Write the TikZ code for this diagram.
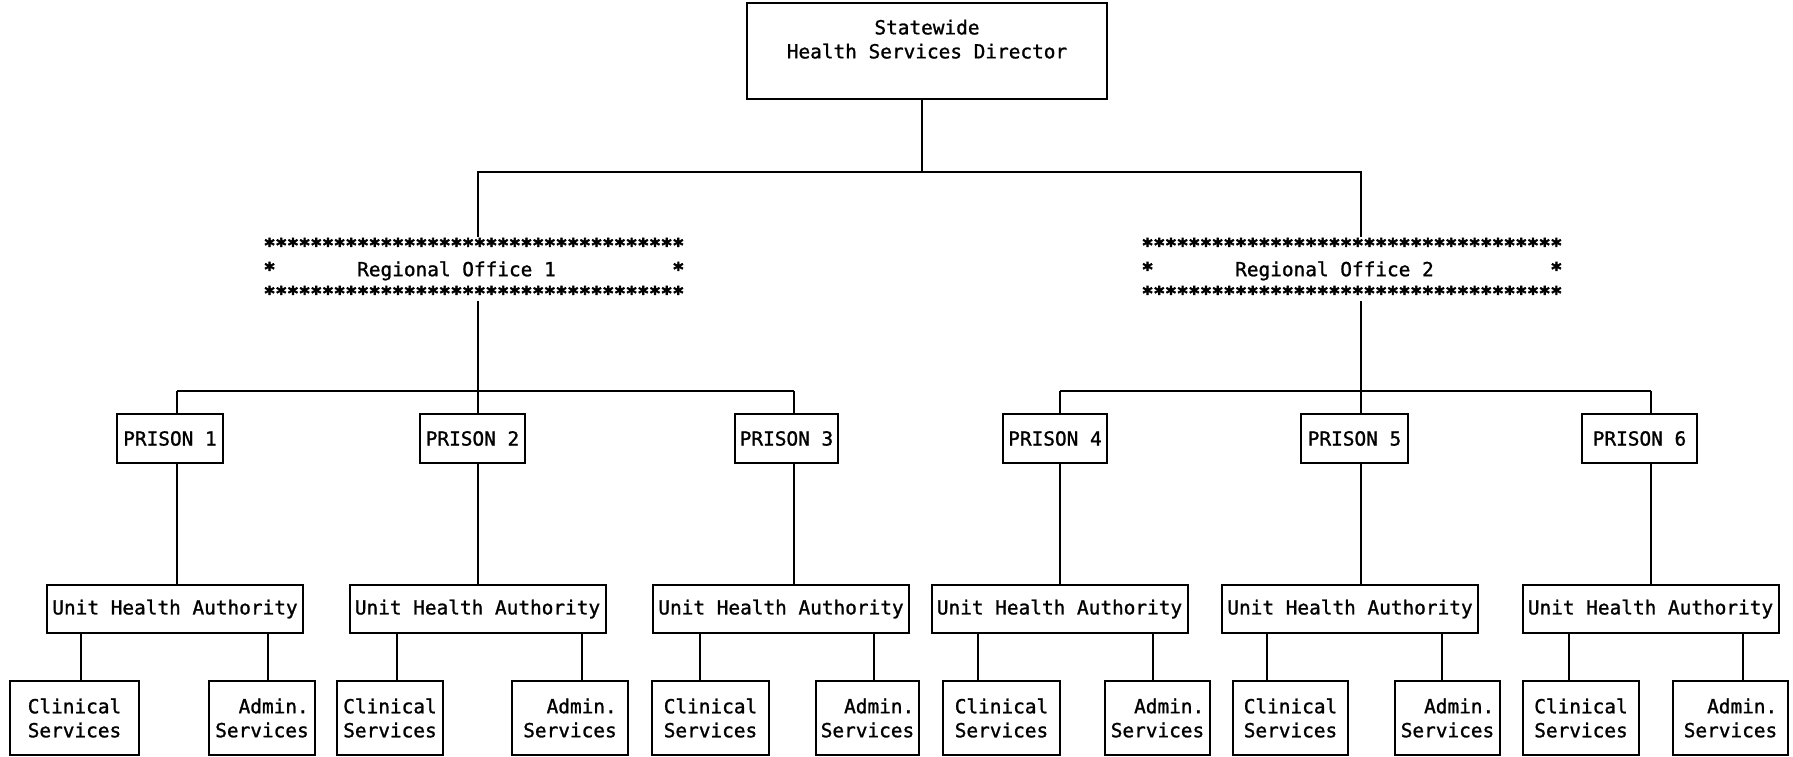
\documentclass[tikz,border=0pt]{standalone}
\usepackage{fontspec}
\newfontfamily\chartfont{DejaVu Sans Mono}[FakeBold=1.2]
\newfontfamily\starfont{DejaVu Sans Mono Bold}[FakeBold=3]
\newcommand\starrow{{\starfont ************************************}}
\newcommand\onestar{{\starfont *}}

\begin{document}
\begin{tikzpicture}[x=1pt, y=-1pt, line width=2pt,
  every node/.style={font={\chartfont\fontsize{19.4}{24}\selectfont}, inner sep=0pt},
  orgbox/.style={draw, align=center},
  regionbox/.style={align=left}]
  \useasboundingbox (0,0) rectangle (1793,757);

  \node[orgbox, minimum width=360pt, minimum height=96pt] (dir) at (927,51)
    {Statewide\\Health Services Director\\\mbox{}};
  \node[regionbox] (ro1) at (474,269)
    {\starrow\\\onestar\ \ \ \ \ \ \ Regional Office 1\ \ \ \ \ \ \ \ \ \ \onestar\\\starrow};
  \node[regionbox] (ro2) at (1352,269)
    {\starrow\\\onestar\ \ \ \ \ \ \ Regional Office 2\ \ \ \ \ \ \ \ \ \ \onestar\\\starrow};

  \foreach \i/\kx/\pc/\pw/\uc/\cc/\cw/\ac/\aw/\lc/\la in {
      1/177/170/106/175/74.5/129/262/106/81/268,
      2/478/472.5/105/477.5/390/106/570/116/397/582,
      3/794/786.5/103/781/710.5/117/867.5/103/700/874,
      4/1060/1055/104/1059.5/1001.5/117/1157.5/105/978/1153,
      5/1361/1354.5/107/1350/1290.5/115/1447.5/105/1267/1442,
      6/1651/1639.5/115/1650.5/1581/116/1730.5/115/1569/1743} {
    \coordinate (k\i) at (\kx,391);
    \coordinate (lc\i) at (\lc,0);
    \coordinate (la\i) at (\la,0);
    \node[orgbox, minimum width=\pw pt, minimum height=49pt] (p\i) at (\pc,438.5) {PRISON \i};
    \node[orgbox, minimum width=256pt, minimum height=48pt] (u\i) at (\uc,609) {Unit Health Authority};
    \node[orgbox, minimum width=\cw pt, minimum height=74pt] (cl\i) at (\cc,718) {Clinical\\Services};
    \node[orgbox, align=right, minimum width=\aw pt, minimum height=74pt] (ad\i) at (\ac,718) {Admin.\\Services};
    \draw (k\i) -- (k\i |- p\i.north);
    \draw (k\i |- p\i.south) -- (k\i |- u\i.north);
    \draw (u\i.south -| lc\i) -- (cl\i.north -| lc\i);
    \draw (u\i.south -| la\i) -- (ad\i.north -| la\i);
  }

  \coordinate (dirj) at (922,172);
  \draw (dir.south -| dirj) -- (dirj);
  \draw (ro1.north -| k2) |- (dirj) -| (ro2.north -| k5);
  \draw (ro1.south -| k2) -- (k2);
  \draw (k1) -- (k3);
  \draw (ro2.south -| k5) -- (k5);
  \draw (k4) -- (k6);
\end{tikzpicture}
\end{document}
